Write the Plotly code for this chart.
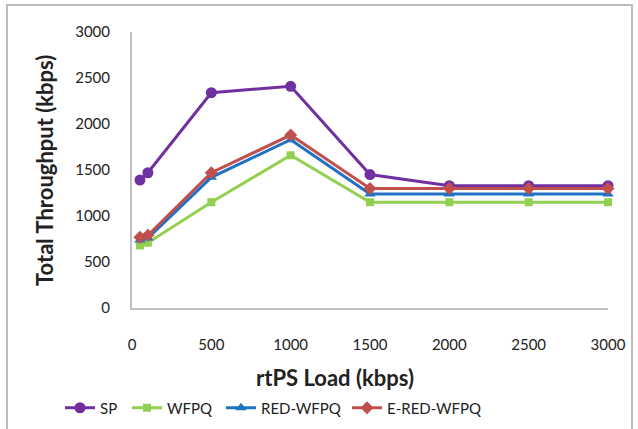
import plotly.graph_objects as go

# rtPS load points (kbps)
load = [50, 100, 500, 1000, 1500, 2000, 2500, 3000]

# total throughput (kbps) per scheduling scheme
sp = [1390, 1470, 2340, 2410, 1450, 1330, 1330, 1330]
wfpq = [680, 710, 1150, 1660, 1150, 1150, 1150, 1150]
red_wfpq = [740, 760, 1420, 1830, 1240, 1240, 1240, 1240]
e_red_wfpq = [770, 790, 1470, 1880, 1300, 1300, 1300, 1300]

x_ticks = [0, 500, 1000, 1500, 2000, 2500, 3000]
y_ticks = [0, 500, 1000, 1500, 2000, 2500, 3000]

x_title = "rtPS Load (kbps)"
y_title = "Total Throughput (kbps)"

FONT = "Lato, Carlito, 'Liberation Sans', sans-serif"

W, H = 638, 429
L, R, T, B = 132, 30, 32, 121

# each series gets its own legend box so the entries can be spaced freely
series = [
    ("SP", sp, "#7030A0", "circle", 11, "legend", 60),
    ("WFPQ", wfpq, "#92D050", "square", 8, "legend2", 127),
    ("RED-WFPQ", red_wfpq, "#1F72C4", "triangle-up", 10, "legend3", 221),
    ("E-RED-WFPQ", e_red_wfpq, "#C0504D", "diamond", 10, "legend4", 347),
]

fig = go.Figure()
legends = {}
for name, vals, color, symbol, size, leg, lx in series:
    fig.add_trace(go.Scatter(
        x=load, y=vals, name=name, mode="lines+markers",
        line=dict(color=color, width=3),
        marker=dict(color=color, symbol=symbol, size=size),
        cliponaxis=False, legend=leg,
    ))
    legends[leg] = dict(
        xref="container", yref="container",
        x=lx / W, xanchor="left",
        y=1 - 408 / H, yanchor="middle",
        font=dict(size=15, color="#222222"),
        bgcolor="rgba(0,0,0,0)", borderwidth=0,
    )

fig.update_layout(
    width=W, height=H,
    margin=dict(l=L, r=R, t=T, b=B, autoexpand=False),
    paper_bgcolor="white", plot_bgcolor="white",
    font=dict(family=FONT, size=15, color="#222222"),
    showlegend=True,
    xaxis=dict(
        range=[0, 3000], tickvals=x_ticks, ticktext=[str(v) for v in x_ticks],
        showgrid=False, zeroline=False, showline=True,
        linecolor="#BFBFBF", linewidth=2,
        ticks="outside", ticklen=22, tickcolor="rgba(0,0,0,0)",
        tickfont=dict(size=15),
    ),
    yaxis=dict(
        range=[0, 3000], tickvals=y_ticks, ticktext=[str(v) for v in y_ticks],
        showgrid=False, zeroline=False, showline=True,
        linecolor="#BFBFBF", linewidth=2,
        ticks="outside", ticklen=17, tickcolor="rgba(0,0,0,0)",
        tickfont=dict(size=15),
    ),
    annotations=[
        dict(text="<b>" + x_title + "</b>", xref="paper", yref="paper",
             x=(335 - L) / (W - L - R), y=(H - B - 377) / (H - T - B),
             xanchor="center", yanchor="middle", showarrow=False,
             font=dict(size=22, color="#222222")),
        dict(text="<b>" + y_title + "</b>", xref="paper", yref="paper",
             x=(44 - L) / (W - L - R), y=(H - B - 171) / (H - T - B),
             xanchor="center", yanchor="middle", showarrow=False, textangle=-90,
             font=dict(size=22, color="#222222")),
    ],
    shapes=[dict(
        type="rect", xref="paper", yref="paper",
        x0=(7 - L) / (W - L - R), x1=(632 - L) / (W - L - R),
        y0=(H - B - 440) / (H - T - B), y1=(H - B - 5) / (H - T - B),
        line=dict(color="#BDBDBD", width=2), fillcolor="rgba(0,0,0,0)",
        layer="below",
    )],
    **legends,
)

fig.write_html("out.html")
